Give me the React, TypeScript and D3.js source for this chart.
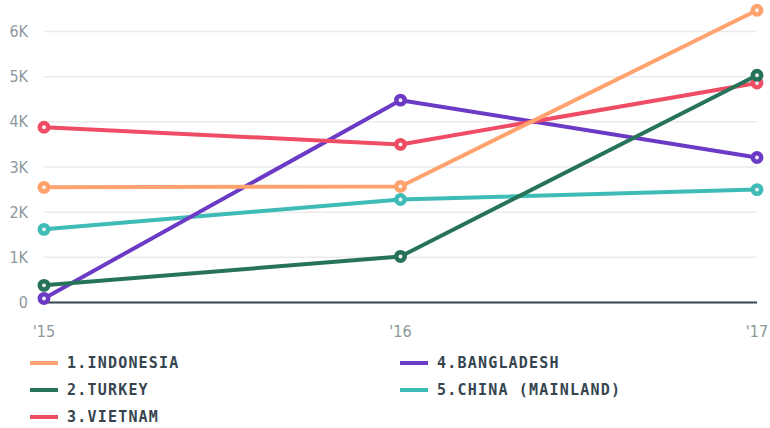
import * as d3 from 'd3';
import React, { useEffect, useRef } from 'react';

const years = ["'15", "'16", "'17"];
const countries = ['1.INDONESIA', '2.TURKEY', '3.VIETNAM', '4.BANGLADESH', '5.CHINA (MAINLAND)'];
const indonesia = [2550, 2570, 6470];
const turkey = [380, 1020, 5030];
const vietnam = [3880, 3500, 4860];
const bangladesh = [90, 4480, 3210];
const china = [1620, 2280, 2500];
const colors = ['#ffa26d', '#27735a', '#ee4d65', '#6c3bc6', '#3ebbb7'];
const yTicks = [0, 1000, 2000, 3000, 4000, 5000, 6000];

const App = () => {
    const chartArea = useRef<SVGSVGElement>(null);
    const width = 770, height = 428;

    useEffect(() => {
        const svg = d3.select(chartArea.current);
        svg.selectAll('*').remove();

        const series = [indonesia, turkey, vietnam, bangladesh, china];

        var x = d3.scalePoint().domain(years).range([44, 757]);
        var y = d3.scaleLinear().domain([0, 6000]).range([302.5, 31.5]);

        // grid
        svg.append('g').selectAll('line')
            .data(yTicks.filter(d => d > 0))
            .join('line')
            .attr('x1', 44).attr('x2', 757)
            .attr('y1', d => y(d)).attr('y2', d => y(d))
            .attr('stroke', '#ebebeb').attr('stroke-width', 1.5);

        svg.append('g').selectAll('text')
            .data(yTicks)
            .join('text')
            .attr('x', 28).attr('y', d => y(d))
            .attr('dy', '0.35em')
            .attr('text-anchor', 'end')
            .attr('fill', '#8d989d')
            .style('font', '16px "DejaVu Sans Condensed", "Roboto", sans-serif')
            .text(d => d === 0 ? '0' : (d / 1000) + 'K');

        svg.append('line')
            .attr('x1', 44).attr('x2', 757)
            .attr('y1', y(0)).attr('y2', y(0))
            .attr('stroke', '#36454f').attr('stroke-width', 2);

        svg.append('g').selectAll('text')
            .data(years)
            .join('text')
            .attr('x', d => x(d) as number).attr('y', 337)
            .attr('text-anchor', 'middle')
            .attr('fill', '#8d989d')
            .style('font', '16px "DejaVu Sans Condensed", "Roboto", sans-serif')
            .text(d => d);

        const line = d3.line<number>()
            .x((d, i) => x(years[i]) as number)
            .y(d => y(d));

        const order = [4, 3, 2, 1, 0];
        order.forEach(i => {
            const g = svg.append('g');
            g.append('path')
                .attr('d', line(series[i]))
                .attr('fill', 'none')
                .attr('stroke', colors[i])
                .attr('stroke-width', 4)
                .attr('stroke-linejoin', 'round');
            g.selectAll('circle')
                .data(series[i])
                .join('circle')
                .attr('cx', (d, j) => x(years[j]) as number)
                .attr('cy', d => y(d))
                .attr('r', 4.2)
                .attr('fill', '#f4f4f4')
                .attr('stroke', colors[i])
                .attr('stroke-width', 4.5);
        });

        // legend
        const legend = svg.append('g');
        countries.forEach((c, i) => {
            const col = i < 3 ? 0 : 1;
            const row = i < 3 ? i : i - 3;
            const lx = col === 0 ? 30 : 400;
            const ly = 363 + row * 27;
            legend.append('line')
                .attr('x1', lx).attr('x2', lx + 28)
                .attr('y1', ly).attr('y2', ly)
                .attr('stroke', colors[i]).attr('stroke-width', 4);
            legend.append('text')
                .attr('x', lx + 37).attr('y', ly)
                .attr('dy', '0.35em')
                .attr('fill', '#36454f')
                .attr('letter-spacing', 1.2)
                .style('font', 'bold 15px "DejaVu Sans Mono", monospace')
                .text(c);
        });
    }, []);

    return <svg ref={chartArea} width={width} height={height}
        style={{ position: 'absolute', left: 0, top: 0, background: '#fff' }} />;
}
export default App;
